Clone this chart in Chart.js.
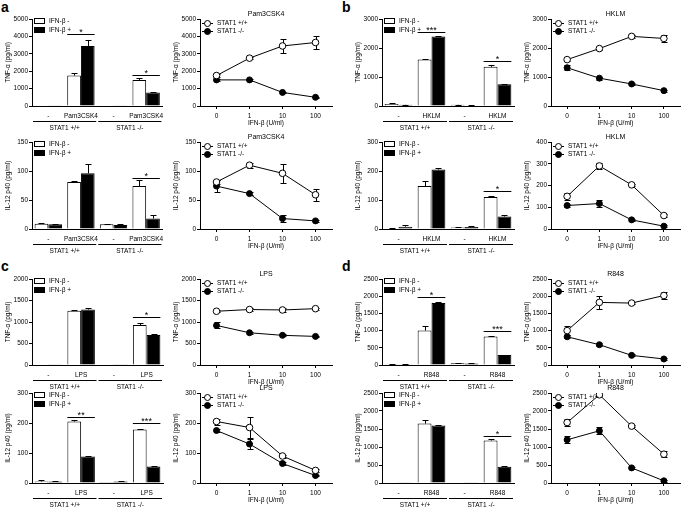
<!DOCTYPE html>
<html>
<head>
<meta charset="utf-8">
<script src="https://cdn.jsdelivr.net/npm/chart.js@4.4.0/dist/chart.umd.min.js"></script>
<style>
  body { margin: 0; background: #fff; width: 685px; height: 511px; position: relative; overflow: hidden; font-family: "Liberation Sans", Arial, sans-serif; }
  canvas { position: absolute; }
  .panel { position: absolute; font-weight: bold; font-size: 14px; line-height: 14px; }
</style>
</head>
<body>
<div class="panel" style="left:1px;top:0px">a</div>
<div class="panel" style="left:342px;top:0px">b</div>
<div class="panel" style="left:1px;top:259px">c</div>
<div class="panel" style="left:342px;top:259px">d</div>
<script>
// labels
const doses = ['0', '1', '10', '100'];
const barLegend = ['IFN-β -', 'IFN-β +'];
const lineLegend = ['STAT1 +/+', 'STAT1 -/-'];
const groupLabels = ['STAT1 +/+', 'STAT1 -/-'];

// a: Pam3CSK4
const a_cats = ['-', 'Pam3CSK4', '-', 'Pam3CSK4'];
const a_tnfBarNeg = [8, 1750, 8, 1500], a_tnfBarNegErr = [0, 130, 0, 110];
const a_tnfBarPos = [8, 3450, 8, 780], a_tnfBarPosErr = [0, 350, 0, 20];
const a_tnfSig = [[1, 4150, '*'], [3, 1800, '*']];
const a_tnfWT = [1750, 2750, 3450, 3650], a_tnfWTErr = [100, 60, 380, 350];
const a_tnfKO = [1500, 1500, 780, 500], a_tnfKOErr = [80, 40, 50, 40];
const a_ilBarNeg = [9, 81, 8, 74], a_ilBarNegErr = [1, 1, 1, 11];
const a_ilBarPos = [8, 96, 7, 18], a_ilBarPosErr = [1, 16, 1, 6];
const a_ilSig = [[3, 88, '*']];
const a_ilWT = [81, 110, 96, 59], a_ilWTErr = [4, 4, 16, 10];
const a_ilKO = [74, 61, 18, 14], a_ilKOErr = [10, 2, 6, 2];

// b: HKLM
const b_cats = ['-', 'HKLM', '-', 'HKLM'];
const b_tnfBarNeg = [70, 1600, 40, 1350], b_tnfBarNegErr = [30, 15, 10, 80];
const b_tnfBarPos = [40, 2400, 20, 750], b_tnfBarPosErr = [10, 10, 5, 10];
const b_tnfSig = [[1, 2550, '***'], [3, 1550, '*']];
const b_tnfWT = [1600, 1980, 2400, 2330], b_tnfWTErr = [50, 60, 40, 120];
const b_tnfKO = [1320, 960, 760, 530], b_tnfKOErr = [80, 50, 30, 30];
const b_ilBarNeg = [2, 148, 5, 110], b_ilBarNegErr = [1, 18, 1, 5];
const b_ilBarPos = [8, 205, 7, 43], b_ilBarPosErr = [5, 4, 2, 5];
const b_ilSig = [[3, 132, '*']];
const b_ilWT = [150, 290, 203, 62], b_ilWTErr = [15, 15, 5, 8];
const b_ilKO = [108, 117, 42, 13], b_ilKOErr = [5, 15, 4, 4];

// c: LPS
const c_cats = ['-', 'LPS', '-', 'LPS'];
const c_tnfBarNeg = [5, 1260, 5, 930], c_tnfBarNegErr = [0, 15, 0, 50];
const c_tnfBarPos = [5, 1290, 8, 700], c_tnfBarPosErr = [0, 40, 0, 10];
const c_tnfSig = [[3, 1120, '*']];
const c_tnfWT = [1250, 1290, 1280, 1310], c_tnfWTErr = [20, 40, 40, 20];
const c_tnfKO = [920, 750, 690, 665], c_tnfKOErr = [70, 20, 20, 20];
const c_ilBarNeg = [5, 205, 3, 178], c_ilBarNegErr = [5, 5, 0, 3];
const c_ilBarPos = [5, 88, 5, 55], c_ilBarPosErr = [2, 3, 1, 3];
const c_ilSig = [[1, 220, '**'], [3, 200, '***']];
const c_ilWT = [205, 185, 90, 42], c_ilWTErr = [10, 35, 5, 5];
const c_ilKO = [175, 130, 65, 25], c_ilKOErr = [5, 15, 5, 3];

// d: R848
const d_cats = ['-', 'R848', '-', 'R848'];
const d_tnfBarNeg = [20, 1000, 50, 830], d_tnfBarNegErr = [5, 140, 5, 10];
const d_tnfBarPos = [20, 1800, 40, 290], d_tnfBarPosErr = [5, 20, 5, 10];
const d_tnfSig = [[1, 1980, '*'], [3, 990, '***']];
const d_tnfWT = [1000, 1820, 1800, 2020], d_tnfWTErr = [120, 180, 40, 110];
const d_tnfKO = [820, 590, 280, 175], d_tnfKOErr = [40, 50, 30, 20];
const d_ilBarNeg = [5, 1650, 5, 1180], d_ilBarNegErr = [0, 100, 0, 50];
const d_ilBarPos = [5, 1600, 5, 450], d_ilBarPosErr = [0, 20, 0, 20];
const d_ilSig = [[3, 1300, '*']];
const d_ilWT = [1680, 2450, 1580, 800], d_ilWTErr = [100, 40, 30, 80];
const d_ilKO = [1200, 1450, 420, 60], d_ilKOErr = [100, 100, 30, 20];

// grid of cells: canvas box + plot edges (page px)
const C1 = { x: 0, w: 170, pl: 32, pr: 163 };
const C2 = { x: 170, w: 168, pl: 200, pr: 332 };
const C3 = { x: 340, w: 175, pl: 382, pr: 514 };
const C4 = { x: 515, w: 170, pl: 551, pr: 683 };
const R1 = { y: 0, h: 135, pt: 19, pb: 106 };
const R2 = { y: 125, h: 135, pt: 142, pb: 229 };
const R3 = { y: 250, h: 145, pt: 279, pb: 365 };
const R4 = { y: 380, h: 131, pt: 393, pb: 483 };

const FONT = '"Liberation Sans", Arial, sans-serif';
const tickFont = { family: FONT, size: 6.5 };
const extra = {};

function txt(ctx, s, x, y, size, align, base) {
  ctx.font = size + 'px ' + FONT;
  ctx.fillStyle = '#000';
  ctx.textAlign = align || 'center';
  ctx.textBaseline = base || 'middle';
  ctx.fillText(s, x, y);
}

function drawErrors(chart, e, both) {
  const ctx = chart.ctx, ys = chart.scales.y;
  ctx.save();
  ctx.strokeStyle = '#000';
  ctx.lineWidth = 1;
  e.errs.forEach((errs, i) => {
    const meta = chart.getDatasetMeta(i);
    const vals = chart.data.datasets[i].data;
    meta.data.forEach((el, j) => {
      if (!errs[j]) return;
      const x = Math.round(el.x) + 0.5;
      const hi = Math.round(ys.getPixelForValue(vals[j] + errs[j])) + 0.5;
      const lo = both ? Math.round(ys.getPixelForValue(Math.max(vals[j] - errs[j], 0))) + 0.5 : el.y;
      ctx.beginPath();
      ctx.moveTo(x, lo); ctx.lineTo(x, hi);
      ctx.moveTo(x - 3, hi); ctx.lineTo(x + 3, hi);
      if (both) { ctx.moveTo(x - 3, lo); ctx.lineTo(x + 3, lo); }
      ctx.stroke();
    });
  });
  ctx.restore();
}

Chart.register({
  id: 'extras',
  beforeDatasetsDraw(chart) {
    const e = extra[chart.canvas.id];
    if (e && e.kind === 'line') drawErrors(chart, e, true);
  },
  afterDatasetsDraw(chart) {
    const e = extra[chart.canvas.id];
    if (!e || e.kind !== 'bar') return;
    drawErrors(chart, e, false);
    const ctx = chart.ctx, ys = chart.scales.y;
    ctx.save();
    ctx.strokeStyle = '#000';
    ctx.lineWidth = 1;
    e.sig.forEach(([cat, v, s]) => {
      const w = chart.getDatasetMeta(0).data[cat], b = chart.getDatasetMeta(1).data[cat];
      const y = Math.round(ys.getPixelForValue(v)) + 0.5;
      const x1 = w.x - w.width / 2, x2 = b.x + b.width / 2;
      ctx.beginPath(); ctx.moveTo(x1, y); ctx.lineTo(x2, y); ctx.stroke();
      txt(ctx, s, (x1 + x2) / 2, y + 0.5, 9, 'center', 'alphabetic');
    });
    ctx.restore();
  },
  afterDraw(chart) {
    const e = extra[chart.canvas.id];
    if (!e) return;
    const ctx = chart.ctx, a = chart.chartArea, xs = chart.scales.x;
    ctx.save();
    // y title
    ctx.translate(a.left - 24, (a.top + a.bottom) / 2);
    ctx.rotate(-Math.PI / 2);
    txt(ctx, e.yTitle, 0, 0, 6.5);
    ctx.restore();
    ctx.save();
    ctx.strokeStyle = '#000';
    ctx.lineWidth = 1;
    if (e.kind === 'bar') {
      // legend boxes
      const L = a.left, T = a.top;
      ctx.fillStyle = '#fff';
      ctx.fillRect(L + 2, T - 0.5, 10, 5);
      ctx.strokeRect(L + 2.5, T - 0.5, 10, 5);
      ctx.fillStyle = '#000';
      ctx.fillRect(L + 2, T + 8, 11, 6);
      txt(ctx, barLegend[0], L + 17, T + 2, 6.5, 'left');
      txt(ctx, barLegend[1], L + 17, T + 11, 6.5, 'left');
      // group lines under categories
      const cw = xs.width / 4;
      [[0, 1], [2, 3]].forEach(([f, t], g) => {
        const x1 = xs.getPixelForValue(f) - cw / 2 + 1, x2 = xs.getPixelForValue(t) + cw / 2 - 1;
        const y = Math.round(a.bottom + 15) + 0.5;
        ctx.beginPath(); ctx.moveTo(x1, y); ctx.lineTo(x2, y); ctx.stroke();
        txt(ctx, groupLabels[g], (x1 + x2) / 2, a.bottom + 22, 6.5);
      });
    } else {
      const L = a.left, T = a.top;
      [[T + 4, false], [T + 12, true]].forEach(([y, filled], i) => {
        const yy = Math.round(y) + 0.5;
        ctx.beginPath(); ctx.moveTo(L + 2, yy); ctx.lineTo(L + 13, yy); ctx.stroke();
        ctx.beginPath(); ctx.arc(L + 7.5, yy, 3, 0, Math.PI * 2);
        ctx.fillStyle = filled ? '#000' : '#fff';
        ctx.fill(); ctx.stroke();
        txt(ctx, lineLegend[i], L + 17, yy, 6.5, 'left');
      });
      txt(ctx, e.title, (a.left + a.right) / 2, a.top - 5, 7);
      txt(ctx, 'IFN-β (U/ml)', (a.left + a.right) / 2, a.bottom + 17, 6.5);
    }
    ctx.restore();
  }
});

function scales(col, row, max, step, kind) {
  return {
    x: {
      type: 'category', offset: true,
      grid: { display: true, drawOnChartArea: false, drawTicks: kind === 'line', tickLength: 3, color: '#000' },
      border: { color: '#000', width: 1 },
      ticks: { color: '#000', font: tickFont, padding: kind === 'line' ? 3 : 6, maxRotation: 0, autoSkip: false },
      afterFit: s => { s.height = row.y + row.h - row.pb; }
    },
    y: {
      min: 0, max: max,
      grid: { display: true, drawOnChartArea: false, drawTicks: true, tickLength: 3, color: '#000' },
      border: { color: '#000', width: 1 },
      ticks: { stepSize: step, color: '#000', font: tickFont, padding: 1, callback: v => String(v) },
      afterFit: s => { s.width = col.pl - col.x; }
    }
  };
}

function canvasFor(id, col, row) {
  const c = document.createElement('canvas');
  c.id = id;
  c.width = col.w; c.height = row.h;
  c.style.left = col.x + 'px'; c.style.top = row.y + 'px';
  c.style.width = col.w + 'px'; c.style.height = row.h + 'px';
  document.body.appendChild(c);
  return c;
}

function baseOptions(col, row, max, step, kind) {
  return {
    responsive: false, animation: false, devicePixelRatio: 1,
    layout: { padding: { left: 0, top: row.pt - row.y, right: col.x + col.w - col.pr, bottom: 0 } },
    plugins: { legend: { display: false }, tooltip: { enabled: false }, title: { display: false } },
    scales: scales(col, row, max, step, kind)
  };
}

function barChart(id, col, row, cats, neg, negErr, pos, posErr, sig, max, step, yTitle) {
  const c = canvasFor(id, col, row);
  extra[id] = { kind: 'bar', errs: [negErr, posErr], sig: sig, yTitle: yTitle };
  new Chart(c, {
    type: 'bar',
    data: {
      labels: cats,
      datasets: [
        { data: neg, backgroundColor: '#fff', borderColor: '#000', borderWidth: 1, categoryPercentage: 0.84, barPercentage: 1 },
        { data: pos, backgroundColor: '#000', borderColor: '#000', borderWidth: 1, categoryPercentage: 0.84, barPercentage: 1 }
      ]
    },
    options: baseOptions(col, row, max, step, 'bar')
  });
}

function lineChart(id, col, row, title, wt, wtErr, ko, koErr, max, step, yTitle) {
  const c = canvasFor(id, col, row);
  extra[id] = { kind: 'line', errs: [wtErr, koErr], title: title, yTitle: yTitle };
  new Chart(c, {
    type: 'line',
    data: {
      labels: doses,
      datasets: [
        { data: wt, borderColor: '#000', borderWidth: 1, pointRadius: 3.3, pointBackgroundColor: '#fff', pointBorderColor: '#000', pointBorderWidth: 1 },
        { data: ko, borderColor: '#000', borderWidth: 1, pointRadius: 3, pointBackgroundColor: '#000', pointBorderColor: '#000', pointBorderWidth: 1 }
      ]
    },
    options: baseOptions(col, row, max, step, 'line')
  });
}

const TNF = 'TNF-α (pg/ml)', IL = 'IL-12 p40 (pg/ml)';

barChart('a1', C1, R1, a_cats, a_tnfBarNeg, a_tnfBarNegErr, a_tnfBarPos, a_tnfBarPosErr, a_tnfSig, 5000, 1000, TNF);
lineChart('a2', C2, R1, 'Pam3CSK4', a_tnfWT, a_tnfWTErr, a_tnfKO, a_tnfKOErr, 5000, 1000, TNF);
barChart('a3', C1, R2, a_cats, a_ilBarNeg, a_ilBarNegErr, a_ilBarPos, a_ilBarPosErr, a_ilSig, 150, 50, IL);
lineChart('a4', C2, R2, 'Pam3CSK4', a_ilWT, a_ilWTErr, a_ilKO, a_ilKOErr, 150, 50, IL);

barChart('b1', C3, R1, b_cats, b_tnfBarNeg, b_tnfBarNegErr, b_tnfBarPos, b_tnfBarPosErr, b_tnfSig, 3000, 1000, TNF);
lineChart('b2', C4, R1, 'HKLM', b_tnfWT, b_tnfWTErr, b_tnfKO, b_tnfKOErr, 3000, 1000, TNF);
barChart('b3', C3, R2, b_cats, b_ilBarNeg, b_ilBarNegErr, b_ilBarPos, b_ilBarPosErr, b_ilSig, 300, 100, IL);
lineChart('b4', C4, R2, 'HKLM', b_ilWT, b_ilWTErr, b_ilKO, b_ilKOErr, 400, 100, IL);

barChart('c1', C1, R3, c_cats, c_tnfBarNeg, c_tnfBarNegErr, c_tnfBarPos, c_tnfBarPosErr, c_tnfSig, 2000, 500, TNF);
lineChart('c2', C2, R3, 'LPS', c_tnfWT, c_tnfWTErr, c_tnfKO, c_tnfKOErr, 2000, 500, TNF);
barChart('c3', C1, R4, c_cats, c_ilBarNeg, c_ilBarNegErr, c_ilBarPos, c_ilBarPosErr, c_ilSig, 300, 100, IL);
lineChart('c4', C2, R4, 'LPS', c_ilWT, c_ilWTErr, c_ilKO, c_ilKOErr, 300, 100, IL);

barChart('d1', C3, R3, d_cats, d_tnfBarNeg, d_tnfBarNegErr, d_tnfBarPos, d_tnfBarPosErr, d_tnfSig, 2500, 500, TNF);
lineChart('d2', C4, R3, 'R848', d_tnfWT, d_tnfWTErr, d_tnfKO, d_tnfKOErr, 2500, 500, TNF);
barChart('d3', C3, R4, d_cats, d_ilBarNeg, d_ilBarNegErr, d_ilBarPos, d_ilBarPosErr, d_ilSig, 2500, 500, IL);
lineChart('d4', C4, R4, 'R848', d_ilWT, d_ilWTErr, d_ilKO, d_ilKOErr, 2500, 500, IL);
</script>
</body>
</html>
